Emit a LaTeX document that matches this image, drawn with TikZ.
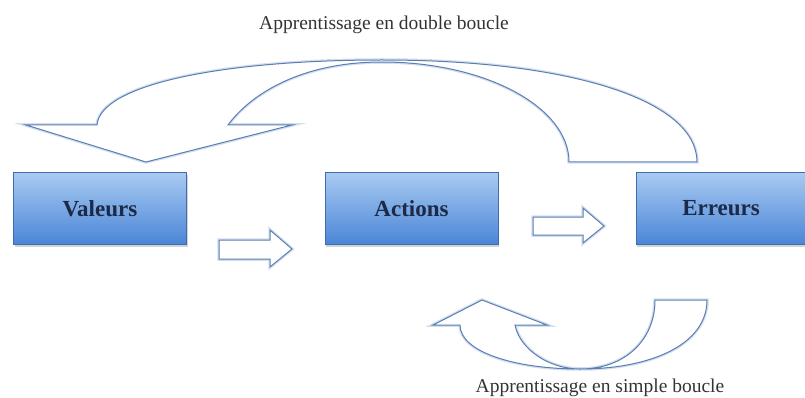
\documentclass[tikz,border=0pt]{standalone}
\usepackage{fontspec}
\setmainfont{Liberation Serif}
\usetikzlibrary{shadows}
\definecolor{boxtop}{HTML}{A9CAF2}
\definecolor{boxbottom}{HTML}{4A86D6}
\definecolor{boxedge}{HTML}{3E6DAE}
\definecolor{arrowblue}{HTML}{5A7DB3}
\definecolor{halo}{HTML}{D3DFEF}
\definecolor{boxtext}{HTML}{1C2A48}
\tikzset{
  stepbox/.style={rectangle, draw=boxedge, thin, top color=boxtop, bottom color=boxbottom,
    minimum width=173pt, minimum height=72pt, text=boxtext,
    font=\fontsize{23}{27}\selectfont\bfseries,
    drop shadow={opacity=0.35, shadow xshift=1pt, shadow yshift=-2.5pt}},
  blockarrow/.style={draw=arrowblue, line width=1pt, fill=white, line join=miter,
    preaction={draw=halo, line width=3.5pt}},
  looplabel/.style={text=black!80, font=\fontsize{19.5}{23}\selectfont}
}
\begin{document}
\begin{tikzpicture}[x=1pt,y=-1pt]
\useasboundingbox (0,0) rectangle (805,398);

% boites
\node[stepbox] (valeurs) at (100,208.5) {Valeurs};
\node[stepbox] (actions) at (411.5,208.5) {Actions};
\node[stepbox, minimum width=170pt] (erreurs) at (721,208.5) {Erreurs};

% fleches simples
\draw[blockarrow] (219,240) -- (270,240) -- (270,230) -- (292,249) -- (270,267)
  -- (270,259) -- (219,259) -- cycle;
\draw[blockarrow] (533,217) -- (583,217) -- (583,208) -- (604,226) -- (583,243)
  -- (583,235) -- (533,235) -- cycle;

% double boucle
\draw[blockarrow] (569,162) -- (697,162)
  .. controls (697,100) and (570,60) .. (382,60)
  .. controls (220,60) and (100,85) .. (97,125)
  -- (26,125) -- (146,162) -- (292,125) -- (228,125)
  .. controls (250,95) and (300,62) .. (382,62)
  .. controls (485,62) and (569,107) .. cycle;
\node[looplabel] (double) at (384,25) {Apprentissage en double boucle};

% simple boucle
\draw[blockarrow] (655,300) -- (707,300)
  .. controls (707,345) and (650,369) .. (580,369)
  .. controls (515,369) and (460,352) .. (460,325)
  -- (433,325) -- (482,300) -- (547,325) -- (515,325)
  .. controls (520,350) and (550,369) .. (580,369)
  .. controls (625,369) and (655,340) .. cycle;
\node[looplabel] (simple) at (600,388) {Apprentissage en simple boucle};

\end{tikzpicture}
\end{document}
